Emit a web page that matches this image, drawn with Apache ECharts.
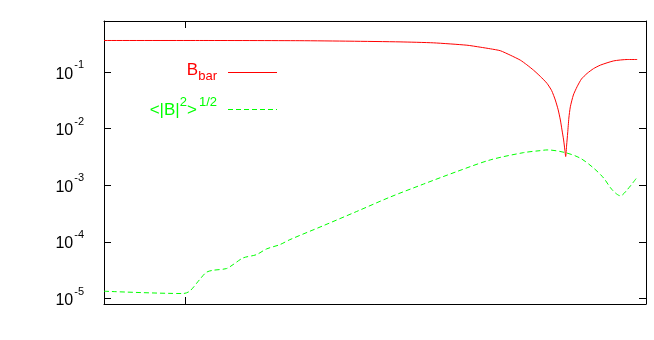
<!DOCTYPE html>
<html>
<head>
<meta charset="utf-8">
<script src="https://cdn.jsdelivr.net/npm/echarts@6/dist/echarts.min.js"></script>
<style>html,body{margin:0;padding:0;background:#fff}#c{width:654px;height:340px}</style>
</head>
<body>
<div id="c"></div>
<script>
// Bbar (red, solid)
var bbarX = [0, 17.65, 36.14, 45.38, 54.62, 60.78, 66.95, 69.41, 71.3, 73.11, 74.95, 76.80, 78.0, 79.26, 80.5, 81.74, 82.6, 83.27, 83.8, 84.2, 84.5, 84.8, 85.03, 85.18, 85.36, 85.55, 85.77, 86.04, 86.6, 87.28, 88.08, 89.13, 90.3, 91.59, 94.05, 96.53, 98.37];
var bbarY = [0.362, 0.362, 0.359, 0.352, 0.342, 0.329, 0.299, 0.276, 0.258, 0.239, 0.1995, 0.163, 0.135, 0.108, 0.084, 0.0632, 0.047, 0.0321, 0.0215, 0.01426, 0.0095, 0.00633, 0.0042, 0.00322, 0.00516, 0.00841, 0.01545, 0.0244, 0.0394, 0.0551, 0.0753, 0.0948, 0.115, 0.133, 0.158, 0.167, 0.167];
// <|B|^2>^1/2 (green, dashed)
var rmsX = [0, 14.57, 15.8, 17.65, 18.89, 20.11, 22.59, 23.81, 25.66, 28.13, 29.98, 32.44, 34.29, 40.44, 46.62, 52.77, 58.93, 65.1, 71.26, 77.41, 80.5, 81.74, 85.12, 87.89, 90.35, 92.2, 93.75, 95.29, 96.53, 98.24];
var rmsY = [1.346e-5, 1.225e-5, 1.346e-5, 2.163e-5, 2.906e-5, 3.15e-5, 3.38e-5, 3.97e-5, 5.21e-5, 5.96e-5, 7.51e-5, 8.95e-5, 1.096e-4, 1.932e-4, 3.45e-4, 6.19e-4, 1.05e-3, 1.75e-3, 2.81e-3, 3.78e-3, 4.10e-3, 4.22e-3, 3.78e-3, 3.01e-3, 2.01e-3, 1.34e-3, 8.34e-4, 6.53e-4, 8.34e-4, 1.34e-3];
var xTicks = [15];
var yTickLabels = ['10^-5', '10^-4', '10^-3', '10^-2', '10^-1'];

function pairs(xs, ys) { return xs.map(function (x, i) { return [x, ys[i]]; }); }

var FONT = 'Liberation Sans, Arial, sans-serif';
var RED = '#ff0000', GREEN = '#00ff00';
var chart = echarts.init(document.getElementById('c'), null, { renderer: 'canvas' });

function xAxisCfg(pos) {
  return {
    type: 'value', min: 0, max: 100, position: pos,
    axisLine: { show: true, onZero: false, lineStyle: { color: '#000', width: 1 } },
    axisTick: { show: true, inside: true, length: 7, customValues: xTicks, lineStyle: { color: '#000', width: 1 } },
    axisLabel: { show: false },
    splitLine: { show: false }
  };
}
function yAxisCfg(pos, showLabel) {
  return {
    type: 'log', logBase: 10, min: 8e-6, max: 0.8, position: pos,
    axisLine: { show: true, onZero: false, lineStyle: { color: '#000', width: 1 } },
    axisTick: { show: true, inside: true, length: 7, lineStyle: { color: '#000', width: 1 } },
    minorTick: { show: false },
    splitLine: { show: false },
    axisLabel: {
      show: showLabel, margin: 20, showMinLabel: false, showMaxLabel: false,
      fontFamily: FONT, color: '#000',
      formatter: function (v) {
        var e = Math.log10(v);
        if (Math.abs(e - Math.round(e)) > 1e-6) return '';
        var lab = yTickLabels.filter(function (t) { return t === '10^' + Math.round(e); })[0];
        if (!lab) return '';
        var parts = lab.split('^');
        return '{b|' + parts[0] + '}{s|' + parts[1] + '}';
      },
      rich: {
        b: { fontSize: 16, fontFamily: FONT, color: '#000', padding: [4, 0, 0, 0] },
        s: { fontSize: 11, fontFamily: FONT, color: '#000', padding: [0, 0, 14, 1] }
      }
    }
  };
}

chart.setOption({
  animation: false,
  grid: { left: 104, top: 21, width: 542, height: 283, containLabel: false, outerBoundsMode: 'none' },
  xAxis: [xAxisCfg('bottom'), xAxisCfg('top')],
  yAxis: [yAxisCfg('left', true), yAxisCfg('right', false)],
  graphic: [
    {
      type: 'text', z: 100,
      style: {
        text: '{m|B}{sub|bar}', x: 217, y: 70.5, align: 'right', verticalAlign: 'middle',
        rich: {
          m: { fontSize: 17, fontFamily: FONT, fill: RED },
          sub: { fontSize: 13, fontFamily: FONT, fill: RED, padding: [11, 0, 0, 0] }
        }
      }
    },
    { type: 'line', z: 100, shape: { x1: 228, y1: 72.5, x2: 277, y2: 72.5 }, style: { stroke: RED, lineWidth: 1 } },
    {
      type: 'text', z: 100,
      style: {
        text: '{m|<|B|}{sup|2}{m|>}{sup2|1/2}', x: 217, y: 110, align: 'right', verticalAlign: 'middle',
        rich: {
          m: { fontSize: 17, fontFamily: FONT, fill: GREEN },
          sup: { fontSize: 13, fontFamily: FONT, fill: GREEN, padding: [0, 0, 15, 0] },
          sup2: { fontSize: 13, fontFamily: FONT, fill: GREEN, padding: [0, 0, 15, 2] }
        }
      }
    },
    { type: 'line', z: 100, shape: { x1: 228, y1: 109.5, x2: 277, y2: 109.5 }, style: { stroke: GREEN, lineWidth: 1, lineDash: [5, 3] } }
  ],
  series: [
    {
      name: 'Bbar', type: 'line', xAxisIndex: 0, yAxisIndex: 0,
      data: pairs(bbarX, bbarY), symbol: 'none', smooth: 0.2,
      lineStyle: { color: RED, width: 1 }, itemStyle: { color: RED }
    },
    {
      name: 'rms', type: 'line', xAxisIndex: 1, yAxisIndex: 1,
      data: pairs(rmsX, rmsY), symbol: 'none', smooth: 0.3,
      lineStyle: { color: GREEN, width: 1, type: [5, 3] }, itemStyle: { color: GREEN }
    }
  ]
});
</script>
</body>
</html>
